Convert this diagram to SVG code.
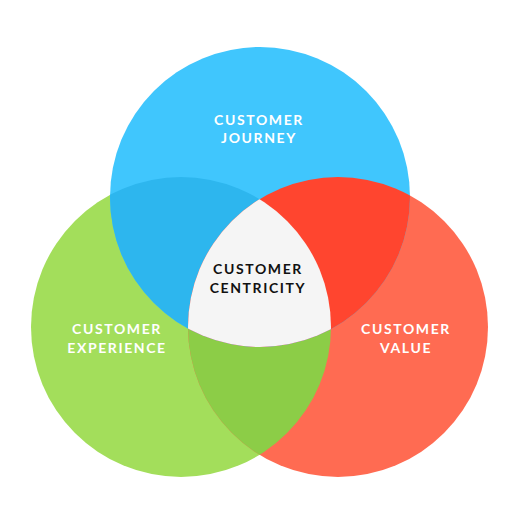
<svg xmlns="http://www.w3.org/2000/svg" width="513" height="532" viewBox="0 0 513 532">
  <style>
    .lbl { font-family: "Lato", "Liberation Sans", sans-serif; font-weight: 700; font-size: 14px; letter-spacing: 1.6px; text-anchor: middle; fill: #ffffff; }
    .dark { fill: #111111; }
  </style>
  <defs>
    <clipPath id="cB"><circle cx="260" cy="197" r="150"/></clipPath>
    <clipPath id="cG"><circle cx="181" cy="327" r="150"/></clipPath>
    <clipPath id="cR"><circle cx="338" cy="327" r="150"/></clipPath>
  </defs>
  <rect width="513" height="532" fill="#ffffff"/>
  <g id="experience">
    <circle cx="181" cy="327" r="150" fill="#A3DE5B"/>
  </g>
  <g id="value">
    <circle cx="338" cy="327" r="150" fill="#FF6B52"/>
    <circle cx="181" cy="327" r="150" fill="#8CCD47" clip-path="url(#cR)"/>
  </g>
  <g id="journey">
    <circle cx="260" cy="197" r="150" fill="#40C6FD"/>
    <circle cx="181" cy="327" r="150" fill="#2DB6EE" clip-path="url(#cB)"/>
    <circle cx="338" cy="327" r="150" fill="#FF452F" clip-path="url(#cB)"/>
  </g>
  <g id="centricity">
    <g clip-path="url(#cB)">
      <g clip-path="url(#cG)">
        <circle cx="338" cy="327" r="150" fill="#F5F5F5"/>
      </g>
    </g>
  </g>
  <g id="labels">
    <text class="lbl" x="259" y="125">CUSTOMER</text>
    <text class="lbl" x="259" y="143">JOURNEY</text>
    <text class="lbl dark" x="258" y="274">CUSTOMER</text>
    <text class="lbl dark" x="258" y="293">CENTRICITY</text>
    <text class="lbl" x="117" y="334">CUSTOMER</text>
    <text class="lbl" x="117" y="353">EXPERIENCE</text>
    <text class="lbl" x="406" y="334">CUSTOMER</text>
    <text class="lbl" x="406" y="353">VALUE</text>
  </g>
  <g id="connectors"/>
</svg>
